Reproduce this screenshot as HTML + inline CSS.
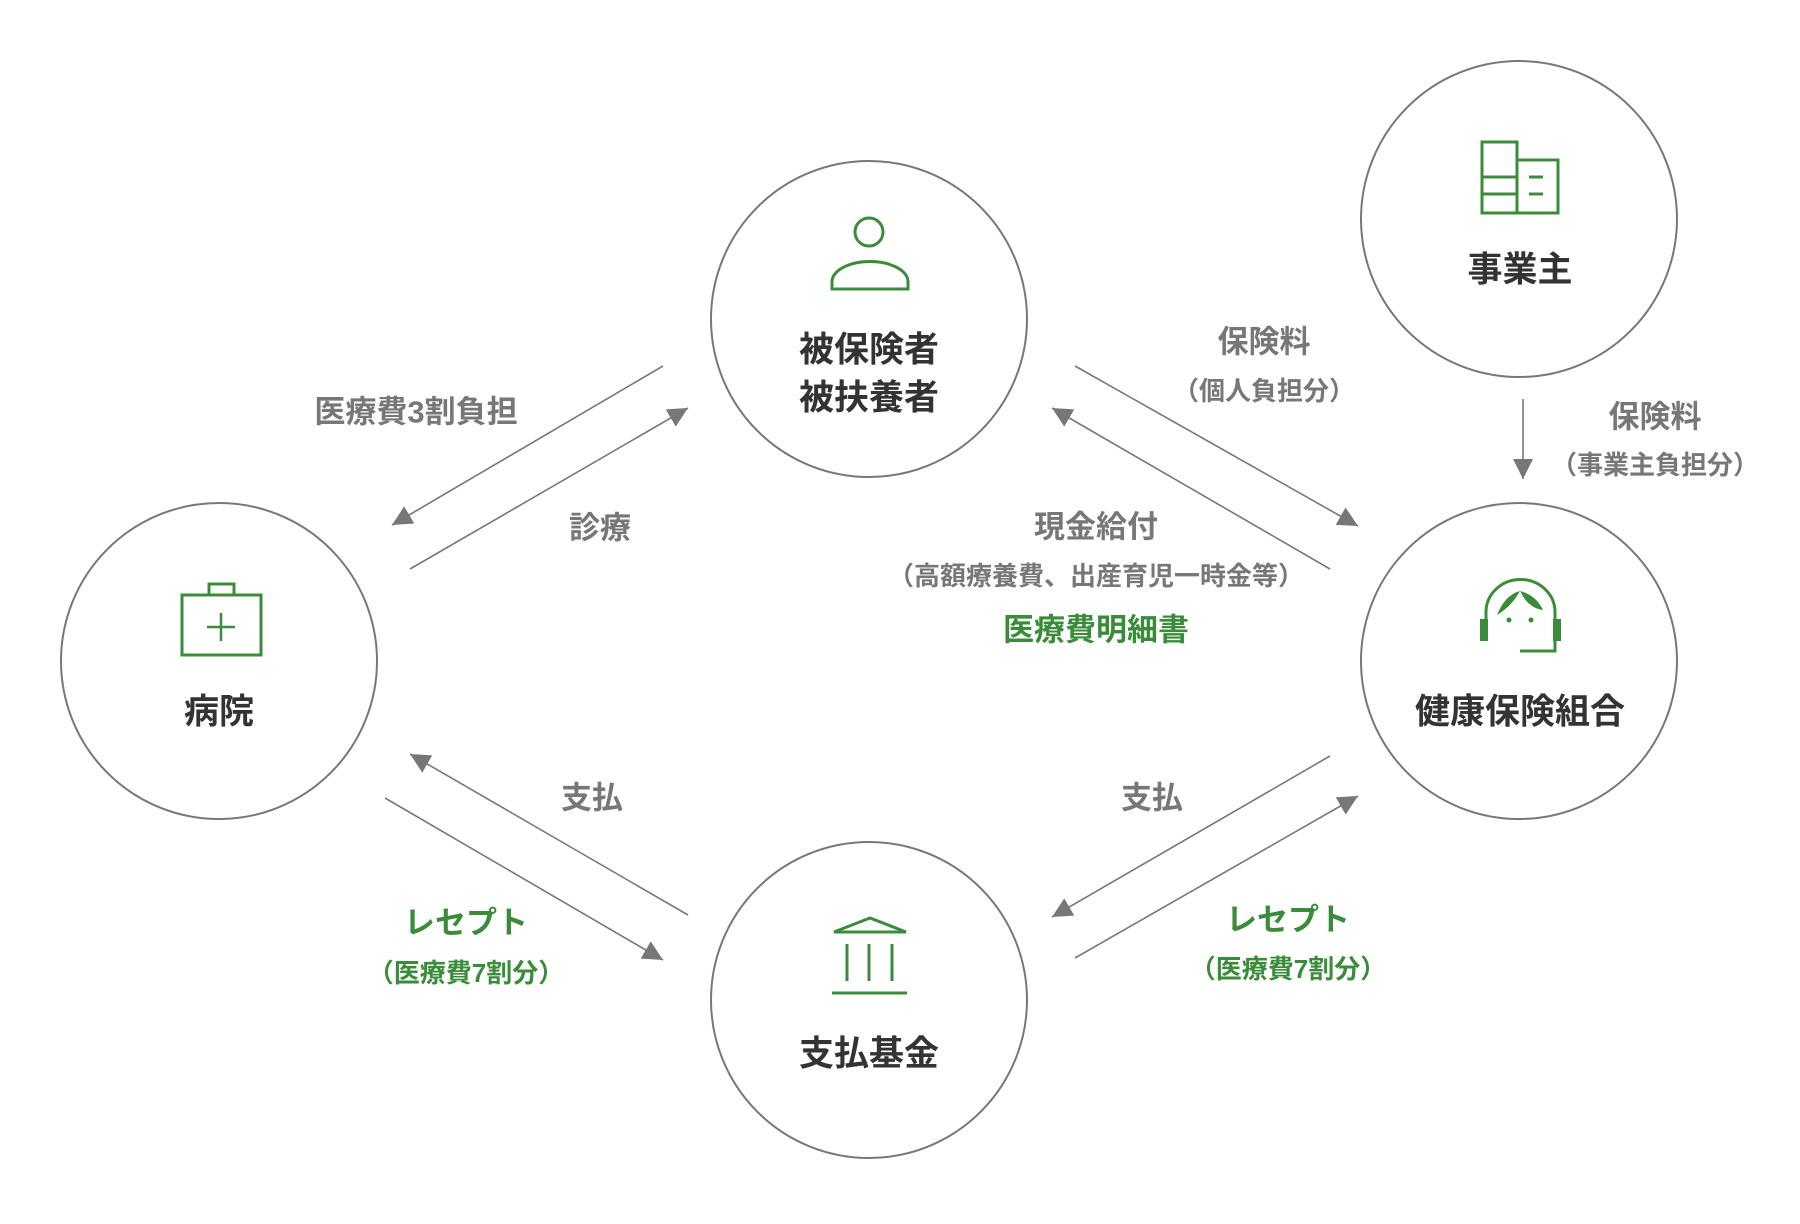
<!DOCTYPE html>
<html><head><meta charset="utf-8"><style>
html,body{margin:0;padding:0;background:#fff}
svg{display:block}
text{font-family:"Liberation Sans","Noto Sans CJK JP",sans-serif;font-weight:bold;text-anchor:middle;dominant-baseline:central}
.g{fill:#777;font-size:31px}
.gs{fill:#777;font-size:26px}
.n{fill:#333;font-size:35px}
.gr{fill:#3a8c3a;font-size:31px}
.grs{fill:#3a8c3a;font-size:26px}
</style></head><body>
<svg width="1800" height="1224" viewBox="0 0 1800 1224" xmlns="http://www.w3.org/2000/svg">
<defs>
<marker id="a" markerUnits="userSpaceOnUse" markerWidth="22" markerHeight="20" refX="20" refY="10" orient="auto">
<path d="M0,0 L20,10 L0,20 z" fill="#777"/>
</marker>
</defs>
<g fill="none" stroke="#777" stroke-width="2">
<circle cx="869" cy="319" r="158"/>
<circle cx="1519" cy="219" r="158"/>
<circle cx="219" cy="661" r="158"/>
<circle cx="1519" cy="661" r="158"/>
<circle cx="869" cy="1000" r="158"/>
</g>
<g stroke="#777" stroke-width="1.6" marker-end="url(#a)">
<line x1="663" y1="366" x2="392" y2="525"/>
<line x1="410" y1="569" x2="688" y2="408"/>
<line x1="1075" y1="366" x2="1358" y2="526"/>
<line x1="1330" y1="569" x2="1052" y2="408"/>
<line x1="688" y1="915" x2="410" y2="754"/>
<line x1="385" y1="798" x2="663" y2="960"/>
<line x1="1330" y1="756" x2="1052" y2="917"/>
<line x1="1075" y1="958" x2="1358" y2="796"/>
<line x1="1523" y1="399" x2="1523" y2="479"/>
</g>
<g fill="none" stroke="#3a8c3a" stroke-width="3">
<circle cx="869" cy="232" r="14"/>
<path d="M832,289 L832,282 A37,20 0 0 1 908,282 L908,289 Z"/>
<rect x="182" y="595" width="79" height="60"/>
<rect x="209" y="584" width="25" height="11"/>
<line x1="207" y1="627" x2="235" y2="627" stroke-width="2.5"/>
<line x1="221" y1="613" x2="221" y2="641" stroke-width="2.5"/>
<rect x="1482" y="142" width="35" height="71"/>
<rect x="1517" y="160" width="41" height="53"/>
<line x1="1482" y1="177" x2="1517" y2="177"/>
<line x1="1482" y1="194" x2="1517" y2="194"/>
<line x1="1529" y1="177" x2="1543" y2="177"/>
<line x1="1529" y1="194" x2="1543" y2="194"/>
<path d="M1486,628 L1486,612 A34,32 0 0 1 1555,612 L1555,651 L1520,651"/>
<path d="M834,932 L870,918 L906,932 Z"/>
<line x1="847" y1="944" x2="847" y2="981"/>
<line x1="869" y1="944" x2="869" y2="981"/>
<line x1="892" y1="944" x2="892" y2="981"/>
<line x1="832" y1="993" x2="907" y2="993"/>
</g>
<g fill="#3a8c3a">
<rect x="1480" y="619" width="8" height="22"/>
<rect x="1553" y="619" width="8" height="22"/>
<path d="M1497,615 Q1505,595 1520,591 Q1536,595 1543,610 Q1528,608 1520,591 Q1512,606 1497,615 Z"/>
<circle cx="1509" cy="620" r="2.5"/>
<circle cx="1531" cy="620" r="2.5"/>
</g>
<text class="n" x="869" y="350">被保険者</text>
<text class="n" x="869" y="398">被扶養者</text>
<text class="n" x="1520" y="270">事業主</text>
<text class="n" x="219" y="712">病院</text>
<text class="n" x="1520" y="712">健康保険組合</text>
<text class="n" x="869" y="1054">支払基金</text>
<text class="g" x="416" y="412">医療費3割負担</text>
<text class="g" x="600" y="528">診療</text>
<text class="g" x="1264" y="342">保険料</text>
<text class="gs" x="1264" y="391">（個人負担分）</text>
<text class="g" x="1655" y="417">保険料</text>
<text class="gs" x="1655" y="465">（事業主負担分）</text>
<text class="g" x="1096" y="527">現金給付</text>
<text class="gs" x="1096" y="576">（高額療養費、出産育児一時金等）</text>
<text class="gr" x="1096" y="630">医療費明細書</text>
<text class="g" x="592" y="798">支払</text>
<text class="g" x="1152" y="798">支払</text>
<text class="gr" x="466" y="923">レセプト</text>
<text class="grs" x="466" y="973">（医療費7割分）</text>
<text class="gr" x="1288" y="920">レセプト</text>
<text class="grs" x="1288" y="969">（医療費7割分）</text>
</svg>
</body></html>
